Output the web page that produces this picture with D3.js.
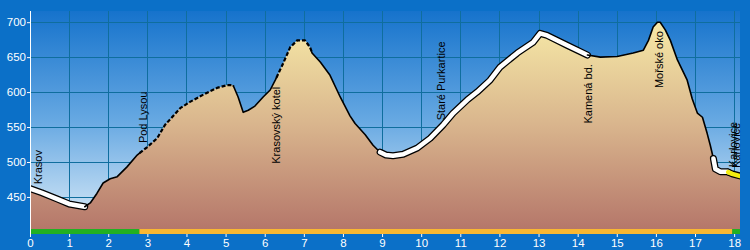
<!DOCTYPE html>
<html>
<head>
<meta charset="utf-8">
<script src="https://cdn.jsdelivr.net/npm/d3@7"></script>
<style>
  body { margin: 0; background: #0b70c8; }
  svg { display: block; font-family: "Liberation Sans", Arial, sans-serif; }
</style>
</head>
<body>
<div id="chart"></div>
<script>
// profile: distance (km) and elevation (m)
const km = [0, 0.3, 0.7, 1.0, 1.4, 1.55, 1.71, 1.87, 2.05, 2.23, 2.48, 2.74, 2.99, 3.25, 3.45,
  3.63, 3.84, 4.09, 4.42, 4.78, 5.04, 5.19, 5.32, 5.45, 5.58, 5.75, 5.96, 6.14, 6.27, 6.47,
  6.65, 6.83, 7.03, 7.16, 7.21, 7.42, 7.67, 7.93, 8.18, 8.31, 8.57, 8.77, 8.95, 9.1, 9.28,
  9.54, 9.9, 10.23, 10.56, 10.82, 11.18, 11.43, 11.76, 12.02, 12.46, 12.86, 13.04, 13.22, 13.73,
  14.25, 14.58, 15.01, 15.42, 15.68, 15.81, 15.93, 16.04, 16.11, 16.24, 16.37, 16.55, 16.68, 16.8,
  16.93, 17.06, 17.19, 17.31, 17.39, 17.47, 17.52, 17.65, 17.83, 17.95, 18.15];
const elevation = [462, 456, 447, 440, 436, 442, 455, 470, 476, 479, 493, 510, 521, 534, 553,
  564, 577, 586, 596, 606, 610, 610, 593, 571, 574, 580, 593, 603, 617, 641,
  664, 674, 674, 664, 656, 643, 624, 593, 566, 555, 539, 524, 514, 510, 509,
  511, 520, 534, 553, 570, 589, 600, 617, 636, 656, 671, 684, 681, 667,
  653, 650, 651, 656, 660, 674, 693, 700, 700, 689, 674, 646, 631, 617,
  590, 570, 564, 541, 524, 505, 490, 486, 486, 483, 480];

const yTicks = [450, 500, 550, 600, 650, 700];
const xTicks = d3.range(0, 19);

// places along the route
const placeNames = ['Krasov', 'Pod Lysou', 'Krasovský kotel', 'Staré Purkartice', 'Kamená bd.', 'Mořské oko', 'Karlovice', 'Karlovice'];
const placeKm = [0.2, 2.9, 6.3, 10.5, 14.27, 16.08, 17.98, 18.06];
const placeSide = ['above', 'above', 'below', 'above', 'below', 'below', 'above', 'above'];

// surface type of each stretch of the route line
const segFrom = [0, 1.4, 2.8, 5.2, 6.3, 7.2, 8.95, 14.25, 17.47, 17.85];
const segTo = [1.4, 2.8, 5.2, 6.3, 7.2, 8.95, 14.25, 17.47, 17.85, 18.15];
const segKind = ['road', 'path', 'trail', 'path', 'trail', 'path', 'road', 'path', 'road', 'yellow'];

// coloured strip under the profile
const stripFrom = [0, 2.8, 17.95];
const stripTo = [2.8, 17.95, 18.15];
const stripKind = ['green', 'orange', 'green'];

const W = 750, H = 250;
const plotLeft = 30, plotRight = 740, plotTop = 11, plotBottom = 234;

const x = d3.scaleLinear().domain([0, 18.15]).range([plotLeft, plotRight]);
const y = d3.scaleLinear().domain([397, 716]).range([plotBottom, plotTop]);

const svg = d3.select('#chart').append('svg')
  .attr('width', W)
  .attr('height', H);

const defs = svg.append('defs');
const sky = defs.append('linearGradient').attr('id', 'sky')
  .attr('gradientUnits', 'userSpaceOnUse')
  .attr('x1', 0).attr('x2', 0).attr('y1', plotTop).attr('y2', 229);
sky.append('stop').attr('offset', 0).attr('stop-color', '#1673cc');
sky.append('stop').attr('offset', 0.5).attr('stop-color', '#66a8e2');
sky.append('stop').attr('offset', 1).attr('stop-color', '#dcecf8');

const ground = defs.append('linearGradient').attr('id', 'ground')
  .attr('gradientUnits', 'userSpaceOnUse')
  .attr('x1', 0).attr('x2', 0).attr('y1', 20).attr('y2', 229);
ground.append('stop').attr('offset', 0).attr('stop-color', '#f7eaa7');
ground.append('stop').attr('offset', 0.5).attr('stop-color', '#d9b58d');
ground.append('stop').attr('offset', 1).attr('stop-color', '#b5776a');

defs.append('clipPath').attr('id', 'plot-clip')
  .append('rect')
  .attr('x', plotLeft).attr('y', plotTop)
  .attr('width', plotRight - plotLeft).attr('height', plotBottom - plotTop);

// background
svg.append('rect').attr('width', W).attr('height', H).attr('fill', '#0b70c8');
svg.append('rect')
  .attr('x', plotLeft).attr('y', plotTop)
  .attr('width', plotRight - plotLeft).attr('height', plotBottom - plotTop)
  .attr('fill', 'url(#sky)');

// grid
const grid = svg.append('g').attr('stroke', '#0f6e9e').attr('stroke-width', 1);
grid.selectAll('.gx').data(xTicks.filter(d => d > 0)).enter().append('line')
  .attr('x1', d => Math.round(x(d)) + 0.5).attr('x2', d => Math.round(x(d)) + 0.5)
  .attr('y1', plotTop).attr('y2', plotBottom);
grid.selectAll('.gy').data(yTicks).enter().append('line')
  .attr('x1', plotLeft).attr('x2', plotRight)
  .attr('y1', d => Math.round(y(d)) + 0.5).attr('y2', d => Math.round(y(d)) + 0.5);

// profile fill
const pts = km.map((k, i) => ({ k, e: elevation[i] }));
svg.append('path')
  .datum(pts)
  .attr('fill', 'url(#ground)')
  .attr('d', d3.area().x(d => x(d.k)).y0(plotBottom).y1(d => y(d.e)));

// route line
function elevAt(k) {
  const i = d3.bisectRight(km, k);
  if (i <= 0) return elevation[0];
  if (i >= km.length) return elevation[km.length - 1];
  const t = (k - km[i - 1]) / (km[i] - km[i - 1]);
  return elevation[i - 1] + t * (elevation[i] - elevation[i - 1]);
}
function stretch(a, b) {
  const out = [{ k: a, e: elevAt(a) }];
  km.forEach((k, i) => { if (k > a && k < b) out.push({ k, e: elevation[i] }); });
  out.push({ k: b, e: elevAt(b) });
  return out;
}
const line = d3.line().x(d => x(d.k)).y(d => y(d.e));
const route = svg.append('g').attr('fill', 'none')
  .attr('clip-path', 'url(#plot-clip)')
  .attr('stroke-linejoin', 'round').attr('stroke-linecap', 'round');

segKind.forEach((kind, i) => {
  const d = line(stretch(segFrom[i], segTo[i]));
  if (kind === 'road' || kind === 'yellow') {
    route.append('path').attr('d', d).attr('stroke', '#000').attr('stroke-width', 7);
  }
});
segKind.forEach((kind, i) => {
  const d = line(stretch(segFrom[i], segTo[i]));
  if (kind === 'road') {
    route.append('path').attr('d', d).attr('stroke', '#fff').attr('stroke-width', 4.5);
  } else if (kind === 'yellow') {
    route.append('path').attr('d', d).attr('stroke', '#f4ee10').attr('stroke-width', 4.5);
  } else if (kind === 'path') {
    route.append('path').attr('d', d).attr('stroke', '#000').attr('stroke-width', 1.6);
  } else {
    route.append('path').attr('d', d).attr('stroke', '#000').attr('stroke-width', 2.2)
      .attr('stroke-linecap', 'butt').attr('stroke-dasharray', '4 2');
  }
});

// place names
svg.append('g').selectAll('text').data(placeNames).enter().append('text')
  .attr('transform', (d, i) => {
    const py = y(elevAt(placeKm[i]));
    const ty = placeSide[i] === 'above' ? py - 7 : py + 9;
    return `translate(${x(placeKm[i])},${ty}) rotate(-90)`;
  })
  .attr('text-anchor', (d, i) => placeSide[i] === 'above' ? 'start' : 'end')
  .attr('dy', '0.35em')
  .attr('font-size', 11)
  .attr('fill', '#000')
  .text(d => d);

// strip
const stripColor = { green: '#22b022', orange: '#f9b732' };
svg.append('g').selectAll('rect').data(stripKind).enter().append('rect')
  .attr('x', (d, i) => x(stripFrom[i]))
  .attr('width', (d, i) => x(stripTo[i]) - x(stripFrom[i]))
  .attr('y', 229).attr('height', 5)
  .attr('fill', d => stripColor[d]);

// axes
const yAxis = svg.append('g')
  .attr('transform', `translate(${plotLeft},0)`)
  .call(d3.axisLeft(y).tickValues(yTicks).tickSize(3).tickPadding(1).tickSizeOuter(0));
yAxis.select('.domain').attr('stroke', '#fff').attr('d', `M0.5,${plotTop}V${plotBottom}`);

const xAxis = svg.append('g')
  .attr('transform', `translate(0,${plotBottom})`)
  .call(d3.axisBottom(x).tickValues(xTicks).tickFormat(d3.format('d')).tickSize(3).tickPadding(2).tickSizeOuter(0));
xAxis.select('.domain').remove();

svg.selectAll('.tick line').attr('stroke', '#fff');
svg.selectAll('.tick text')
  .attr('fill', '#fff')
  .attr('font-size', 11.5)
  .attr('font-family', '"Liberation Sans", Arial, sans-serif');
</script>
</body>
</html>
